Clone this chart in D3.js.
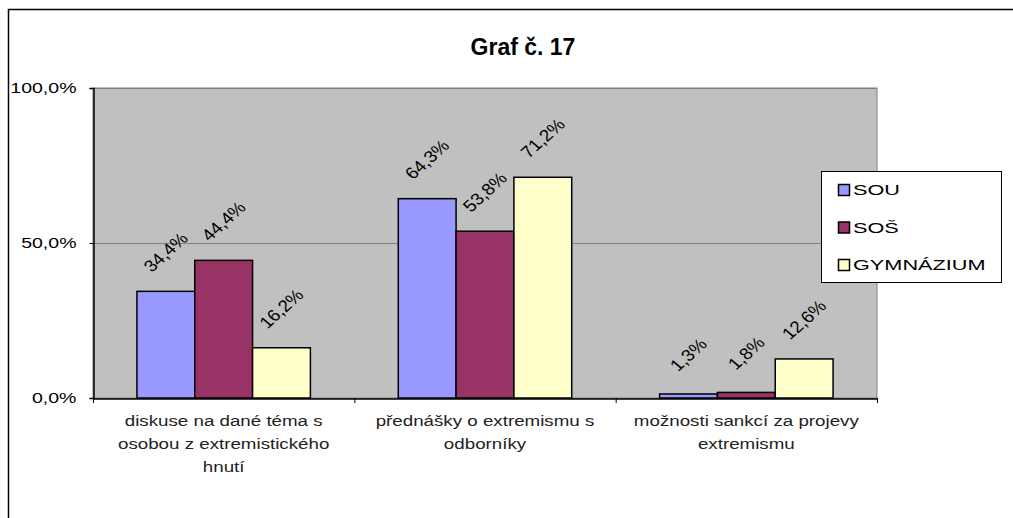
<!DOCTYPE html>
<html>
<head>
<meta charset="utf-8">
<script src="https://cdn.jsdelivr.net/npm/d3@7"></script>
<style>
  body { margin: 0; background: #fff; }
  svg text { font-family: Arial, "Liberation Sans", sans-serif; fill: #000; }
</style>
</head>
<body>
<svg id="canvas" width="1013" height="518"></svg>
<script>
// chart data
let categories = [
  ["diskuse na dané téma s", "osobou z extremistického", "hnutí"],
  ["přednášky o extremismu s", "odborníky"],
  ["možnosti sankcí za projevy", "extremismu"]
];
let seriesNames = ["SOU", "SOŠ", "GYMNÁZIUM"];
let seriesColors = ["#9999FF", "#993366", "#FFFFCC"];
let valuesSOU = [34.4, 64.3, 1.3];
let valuesSOS = [44.4, 53.8, 1.8];
let valuesGYM = [16.2, 71.2, 12.6];
let yTicks = [0, 50, 100];

let series = [valuesSOU, valuesSOS, valuesGYM];

let svg = d3.select("#canvas");

// outer frame
svg.append("rect")
  .attr("x", 8.5).attr("y", 9.5)
  .attr("width", 1020).attr("height", 520)
  .attr("fill", "#fff")
  .attr("stroke", "#000")
  .attr("stroke-width", 1.5);

svg.append("text")
  .attr("x", 523).attr("y", 55)
  .attr("text-anchor", "middle")
  .style("font-size", "23px")
  .style("font-weight", "bold")
  .text("Graf č. 17");

let plot = { left: 93, right: 877, top: 88, bottom: 398 };

let x = d3.scaleBand()
  .domain(d3.range(categories.length))
  .range([plot.left, plot.right])
  .paddingInner(0).paddingOuter(0);

let xInner = d3.scaleBand()
  .domain(d3.range(seriesNames.length))
  .range([0, x.bandwidth()])
  .paddingOuter(0.76);

let y = d3.scaleLinear().domain([0, 100]).range([plot.bottom, plot.top]);

// plot background
svg.append("rect")
  .attr("x", plot.left).attr("y", plot.top)
  .attr("width", plot.right - plot.left).attr("height", plot.bottom - plot.top)
  .attr("fill", "#C0C0C0")
  .attr("stroke", "#808080")
  .attr("stroke-width", 1);

// gridlines
svg.selectAll(".grid")
  .data(yTicks)
  .enter()
  .append("line")
  .attr("x1", plot.left).attr("x2", plot.right)
  .attr("y1", (d) => y(d) + 0.5).attr("y2", (d) => y(d) + 0.5)
  .attr("stroke", "#808080");

// bars
series.forEach((vals, si) => {
  svg.selectAll(".bar" + si)
    .data(vals)
    .enter()
    .append("rect")
    .attr("x", (d, i) => x(i) + xInner(si))
    .attr("y", (d) => y(d))
    .attr("width", xInner.bandwidth())
    .attr("height", (d) => y(0) - y(d))
    .attr("fill", seriesColors[si])
    .attr("stroke", "#000")
    .attr("stroke-width", 1.5);

  svg.selectAll(".lab" + si)
    .data(vals)
    .enter()
    .append("text")
    .attr("transform", (d, i) => {
      let cx = x(i) + xInner(si) + xInner.bandwidth() / 2;
      let cy = y(d) - 39;
      return "translate(" + cx + "," + cy + ") scale(1.15,1) rotate(-46)";
    })
    .attr("text-anchor", "middle")
    .attr("dominant-baseline", "central")
    .style("font-size", "16.5px")
    .text((d) => String(d).replace(".", ",") + "%");
});

// y axis
let yAxis = d3.axisLeft(y)
  .tickValues(yTicks)
  .tickSize(4)
  .tickFormat((d) => d3.format(".1f")(d).replace(".", ",") + "%");
let yg = svg.append("g")
  .attr("transform", "translate(" + (plot.left + 0.5) + ",0)")
  .call(yAxis);
yg.select(".domain").attr("stroke", "#000").attr("stroke-width", 1.5);
yg.selectAll(".tick line").attr("stroke", "#000");
yg.selectAll(".tick text")
  .attr("x", 0)
  .attr("transform", "translate(-17,0) scale(1.26,1)")
  .style("font-size", "15.5px")
  .style("font-family", "Arial, 'Liberation Sans', sans-serif")
  .attr("fill", "#111");

// x axis
let xAxis = d3.axisBottom(x).tickSize(0).tickFormat("");
let xg = svg.append("g")
  .attr("transform", "translate(0," + (plot.bottom + 0.5) + ")")
  .call(xAxis);
xg.select(".domain").attr("stroke", "#000").attr("stroke-width", 1.5);
xg.selectAll(".tick").remove();

// category dividers
let dividers = d3.range(categories.length + 1).map((i) => plot.left + i * x.bandwidth());
svg.selectAll(".divider")
  .data(dividers)
  .enter()
  .append("line")
  .attr("x1", (d) => d + 0.5).attr("x2", (d) => d + 0.5)
  .attr("y1", plot.bottom).attr("y2", plot.bottom + 5)
  .attr("stroke", "#000");

// category labels
categories.forEach((lines, i) => {
  let g = svg.append("g")
    .attr("transform", "translate(" + (x(i) + x.bandwidth() / 2) + ",0) scale(1.21,1)");
  let t = g.append("text")
    .attr("text-anchor", "middle")
    .style("font-size", "15.5px")
    .style("fill", "#222");
  lines.forEach((ln, k) => {
    t.append("tspan")
      .attr("x", 0)
      .attr("y", 426 + k * 23)
      .text(ln);
  });
});

// legend
let lg = svg.append("g");
lg.append("rect")
  .attr("x", 821.5).attr("y", 171.5)
  .attr("width", 180).attr("height", 111)
  .attr("fill", "#fff")
  .attr("stroke", "#000");
seriesNames.forEach((name, i) => {
  let cy = 190 + i * 37.5;
  lg.append("rect")
    .attr("x", 838.5).attr("y", cy - 5.5)
    .attr("width", 11).attr("height", 11)
    .attr("fill", seriesColors[i])
    .attr("stroke", "#000")
    .attr("stroke-width", 1.5);
  lg.append("text")
    .attr("transform", "translate(853," + cy + ") scale(1.4,1)")
    .attr("dominant-baseline", "central")
    .style("font-size", "15.5px")
    .text(name);
});
</script>
</body>
</html>
